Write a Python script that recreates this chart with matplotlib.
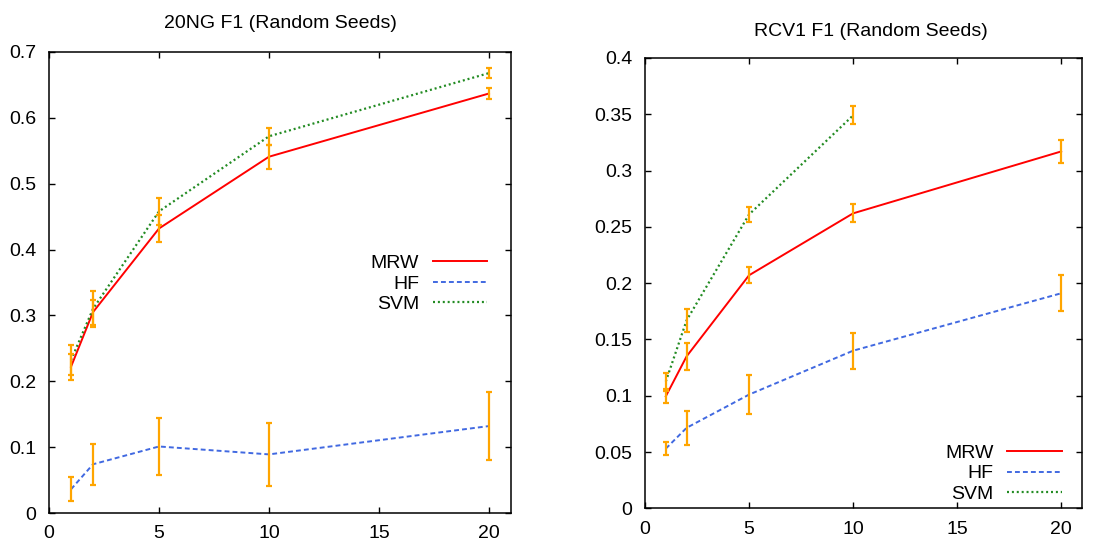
import matplotlib
matplotlib.use("Agg")
import matplotlib.pyplot as plt
from matplotlib.ticker import FuncFormatter, MultipleLocator

plt.rcParams['font.family'] = ['Liberation Sans', 'DejaVu Sans']

# ---- data ----
x_vals = [1, 2, 5, 10, 20]

ng_mrw = [0.222, 0.305, 0.432, 0.541, 0.637]
ng_mrw_err = [0.0195, 0.019, 0.021, 0.018, 0.009]
ng_hf = [0.036, 0.074, 0.101, 0.089, 0.132]
ng_hf_err = [0.018, 0.031, 0.043, 0.048, 0.052]
ng_svm = [0.232, 0.310, 0.458, 0.572, 0.668]
ng_svm_err = [0.023, 0.027, 0.020, 0.013, 0.008]

rcv_x_svm = [1, 2, 5, 10]
rcv_mrw = [0.0995, 0.135, 0.207, 0.262, 0.317]
rcv_mrw_err = [0.0062, 0.012, 0.007, 0.008, 0.010]
rcv_hf = [0.053, 0.0715, 0.101, 0.140, 0.191]
rcv_hf_err = [0.0058, 0.0152, 0.017, 0.016, 0.016]
rcv_svm = [0.1126, 0.167, 0.261, 0.349]
rcv_svm_err = [0.008, 0.010, 0.007, 0.008]

titles = ["20NG F1 (Random Seeds)", "RCV1 F1 (Random Seeds)"]
labels = ["MRW", "HF", "SVM"]

RED = '#ff0000'
BLUE = '#4169e1'
GREEN = '#228b22'
ORANGE = '#ffa500'
FS = 14

fig = plt.figure(figsize=(10.94, 5.42), dpi=100)
ax1 = fig.add_axes([49/1094, 1-513/542, (511-49)/1094, (513-52)/542])
ax2 = fig.add_axes([645/1094, 1-508.3/542, (1082-645)/1094, (508.3-58)/542])


def draw(ax, xm, m, me, xh, h, he, xs, s, se):
    ax.plot(xm, m, color=RED, lw=1.4, label=labels[0], zorder=2)
    ax.plot(xh, h, color=BLUE, lw=1.4, dashes=(2.5, 1.6), label=labels[1], zorder=2)
    ax.plot(xs, s, color=GREEN, lw=1.6, dashes=(0.9, 1.3), label=labels[2], zorder=2)
    for xx, yy, ee in [(xm, m, me), (xh, h, he), (xs, s, se)]:
        ax.errorbar(xx, yy, yerr=ee, fmt='none', ecolor=ORANGE, elinewidth=1.6,
                    capsize=2.4, capthick=1.6, zorder=3)


draw(ax1, x_vals, ng_mrw, ng_mrw_err, x_vals, ng_hf, ng_hf_err, x_vals, ng_svm, ng_svm_err)
draw(ax2, x_vals, rcv_mrw, rcv_mrw_err, x_vals, rcv_hf, rcv_hf_err, rcv_x_svm, rcv_svm, rcv_svm_err)

fmt = FuncFormatter(lambda v, p: '%g' % round(v, 4))
for ax, ymax, ystep in [(ax1, 0.7, 0.1), (ax2, 0.4, 0.05)]:
    ax.set_xlim(0, 21)
    ax.set_ylim(0, ymax)
    ax.xaxis.set_major_locator(MultipleLocator(5))
    ax.yaxis.set_major_locator(MultipleLocator(ystep))
    ax.yaxis.set_major_formatter(fmt)
    ax.tick_params(direction='in', length=4.5, width=1, top=True, right=True,
                   labelsize=FS)
    ax.tick_params(axis='y', pad=9)
    ax.tick_params(axis='x', pad=9)
    for sp in ax.spines.values():
        sp.set_linewidth(1.1)

ax1.set_title(titles[0], fontsize=14, pad=17)
ax2.set_title(titles[1], fontsize=14, pad=16, x=0.517)

leg_kw = dict(frameon=False, markerfirst=False, fontsize=FS, borderpad=0,
              borderaxespad=0, handlelength=2.8, handletextpad=0.7, labelspacing=0.15)
ax1.legend(loc='center right', bbox_to_anchor=(0.948, 0.497), **leg_kw)
ax2.legend(loc='center right', bbox_to_anchor=(0.954, 0.077), **leg_kw)

fig.savefig('out.png', dpi=100)
